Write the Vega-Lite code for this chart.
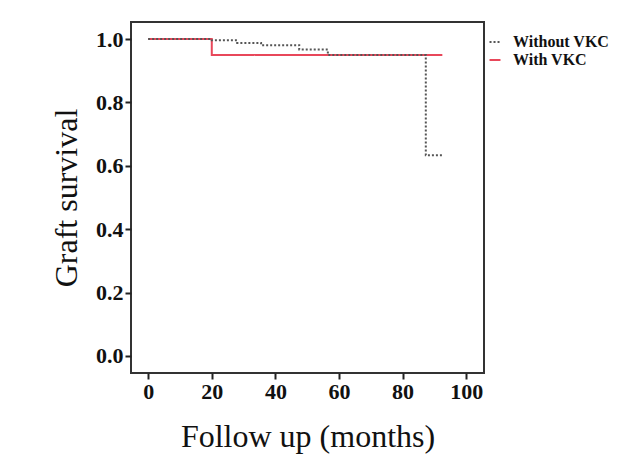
{
  "$schema": "https://vega.github.io/schema/vega-lite/v6.json",
  "width": 353,
  "height": 351,
  "autosize": {"type": "none"},
  "padding": {"left": 131, "top": 22, "right": 134, "bottom": 99},
  "background": "white",
  "config": {
    "view": {"stroke": "#333", "strokeWidth": 2},
    "font": "Liberation Serif"
  },
  "data": {
    "values": [
      {"group": "With VKC", "month": 0, "survival": 1.0},
      {"group": "With VKC", "month": 20, "survival": 0.95},
      {"group": "With VKC", "month": 92.5, "survival": 0.95},
      {"group": "Without VKC", "month": 0, "survival": 1.0},
      {"group": "Without VKC", "month": 20, "survival": 0.996},
      {"group": "Without VKC", "month": 28, "survival": 0.988},
      {"group": "Without VKC", "month": 35.5, "survival": 0.981},
      {"group": "Without VKC", "month": 47.5, "survival": 0.967},
      {"group": "Without VKC", "month": 56.5, "survival": 0.95},
      {"group": "Without VKC", "month": 87.3, "survival": 0.633},
      {"group": "Without VKC", "month": 92.5, "survival": 0.633}
    ]
  },
  "mark": {"type": "line", "interpolate": "step-after", "strokeWidth": 2},
  "encoding": {
    "x": {
      "field": "month", "type": "quantitative",
      "scale": {"domain": [-5.4, 105.6], "nice": false, "zero": false},
      "axis": {
        "values": [0, 20, 40, 60, 80, 100], "grid": false, "domain": false,
        "title": "Follow up (months)", "titleFont": "Liberation Serif", "titleFontSize": 32,
        "titleFontWeight": "normal", "titleColor": "#111", "titlePadding": 19,
        "labelFont": "Liberation Serif", "labelFontSize": 22, "labelFontWeight": "bold",
        "labelColor": "#111", "labelPadding": 2,
        "tickColor": "#222", "tickSize": 6, "tickWidth": 2
      }
    },
    "y": {
      "field": "survival", "type": "quantitative",
      "scale": {"domain": [-0.054, 1.054], "nice": false, "zero": false},
      "axis": {
        "values": [0, 0.2, 0.4, 0.6, 0.8, 1.0], "format": ".1f", "grid": false, "domain": false,
        "title": "Graft survival", "titleFont": "Liberation Serif", "titleFontSize": 32,
        "titleFontWeight": "normal", "titleColor": "#111", "titlePadding": 12,
        "labelFont": "Liberation Serif", "labelFontSize": 22, "labelFontWeight": "bold",
        "labelColor": "#111", "labelPadding": 2,
        "tickColor": "#222", "tickSize": 6, "tickWidth": 2
      }
    },
    "color": {
      "field": "group", "type": "nominal",
      "scale": {"domain": ["Without VKC", "With VKC"], "range": ["#555555", "#e8475a"]},
      "legend": {
        "title": null, "orient": "none", "legendX": 356, "legendY": 12,
        "labelFont": "Liberation Serif", "labelFontSize": 16, "labelFontWeight": "bold",
        "labelColor": "#111", "symbolType": "stroke", "symbolStrokeWidth": 2,
        "symbolSize": 120, "rowPadding": 2, "labelOffset": 10
      }
    },
    "strokeDash": {
      "field": "group", "type": "nominal",
      "scale": {"domain": ["Without VKC", "With VKC"], "range": [[2, 2], [1, 0]]},
      "legend": null
    },
    "order": {"field": "month"}
  }
}
